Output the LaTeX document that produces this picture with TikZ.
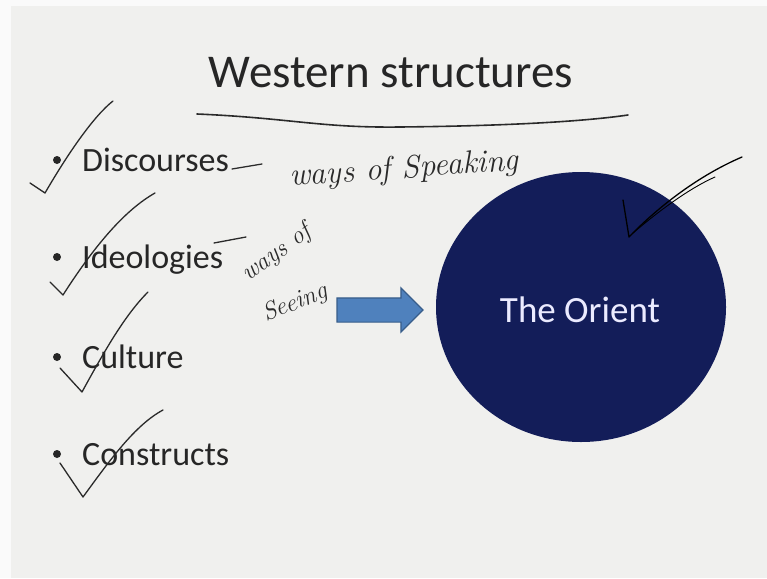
\documentclass[tikz,border=0pt]{standalone}
\usepackage{fontspec}
\newfontfamily\slidefont{Carlito}
\usetikzlibrary{shapes.arrows,shapes.geometric,positioning}

\definecolor{slidebg}{HTML}{F0F0EE}
\definecolor{orientblue}{HTML}{131D59}
\definecolor{arrowblue}{HTML}{4F81BD}
\definecolor{arrowedge}{HTML}{385D8A}
\definecolor{ink}{HTML}{2A2A2A}

\tikzset{
  pen/.style={ink, line width=1.3pt, line cap=round, line join=round},
  hand/.style={ink, anchor=base west, inner sep=0pt, font=\fontsize{32}{32}\selectfont\itshape},
  item/.style={anchor=base west, text=black!85, font=\slidefont\fontsize{34}{34}\selectfont, inner sep=0pt}
}

\begin{document}
\begin{tikzpicture}[x=1pt,y=-1pt]
\useasboundingbox (0,0) rectangle (767,578);
\fill[white!96!gray] (0,0) rectangle (767,578);
\fill[slidebg] (11,6) rectangle (767,578);

%% title and the underline under it
\node[font=\slidefont\fontsize{47}{47}\selectfont, text=black!85, anchor=base, inner sep=0pt] (title) at (391,87) {Western structures};
\draw[pen, line width=1.6pt] (197,114) .. controls (290,118) and (320,128) .. (400,127) .. controls (500,126) and (580,122) .. (628,115);

%% the list
\foreach \name/\txt/\y in {disc/Discourses/171, ideo/Ideologies/268, cult/Culture/368, cons/Constructs/465}{
  \fill[black!85] (57,\y-11) circle (4);
  \node[item] (\name) at (82,\y) {\txt};
}

%% ticks down the list
\draw[pen] (30,183) -- (45,193) .. controls (70,150) and (95,115) .. (113,101);
\draw[pen] (50,282) -- (63,295) .. controls (95,245) and (125,210) .. (155,193);
\draw[pen] (60,368) -- (82,392) .. controls (105,350) and (125,315) .. (148,292);
\draw[pen] (60,463) -- (83,497) .. controls (110,460) and (135,425) .. (163,410);

%% notes written beside the first two items
\draw[pen] (232,169) -- (262,164);
\node[hand, rotate=4] (speak) at (290,186) {ways of Speaking};
\draw[pen] (214,243) -- (246,237);
\node[hand, rotate=36, font=\fontsize{25}{25}\selectfont\itshape] (waysof) at (248,282) {ways of};
\node[hand, rotate=22, font=\fontsize{25}{25}\selectfont\itshape] (seeing) at (266,322) {Seeing};

%% arrow into the circle
\node[single arrow, fill=arrowblue, draw=arrowedge, line width=1.2pt,
      minimum height=86pt, inner xsep=0pt, inner ysep=11.5pt,
      single arrow head extend=10pt] (arr) at (374,310) {};

\node[ellipse, fill=orientblue, minimum width=290pt, minimum height=270pt, inner sep=0pt] (orient) at (581,307) {};
\node[font=\slidefont\fontsize{37}{37}\selectfont, text=blue!8!white, anchor=base, inner sep=0pt] (orientlabel) at (580,322) {The Orient};

%% tick on the circle
\draw[pen, black] (623,200) -- (629,237) .. controls (660,205) and (700,175) .. (742,157);
\draw[pen, black, line width=0.9pt] (633,233) .. controls (660,210) and (690,188) .. (715,177);
\end{tikzpicture}
\end{document}
